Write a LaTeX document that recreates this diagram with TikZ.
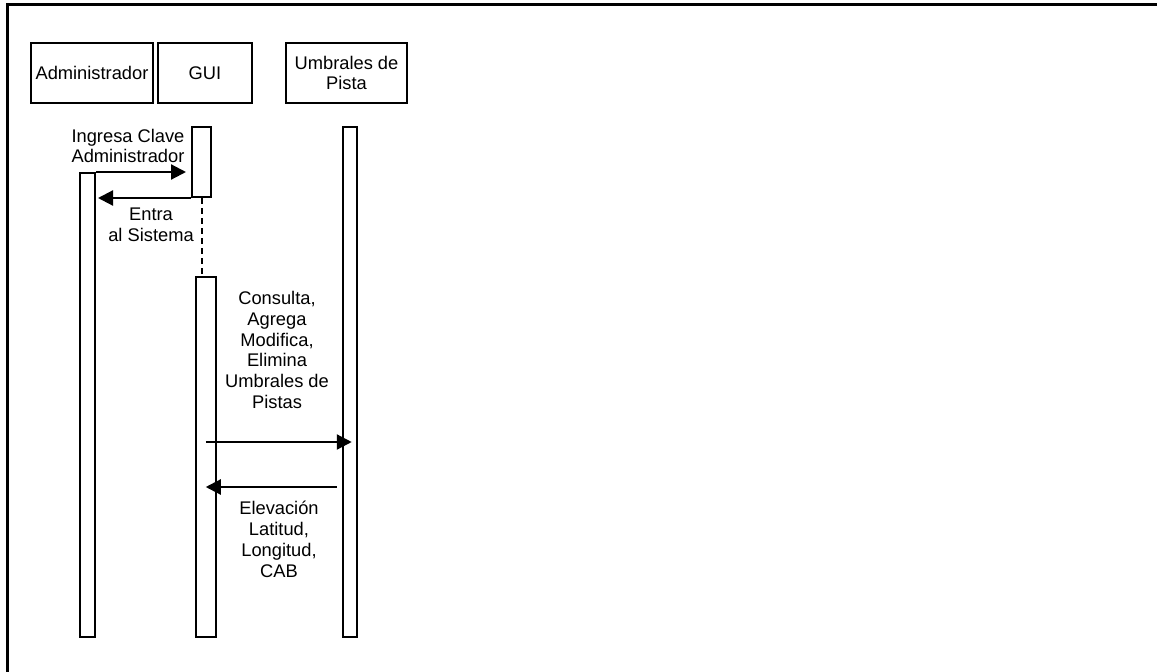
\documentclass[tikz,border=0pt]{standalone}
\usepackage{fontspec}
\setmainfont{Liberation Sans}
\usetikzlibrary{arrows.meta,calc}
\begin{document}
\begin{tikzpicture}[x=1pt,y=-1pt,
  every node/.style={font=\fontsize{18.3}{20.9}\selectfont, inner sep=0pt},
  objbox/.style={draw, line width=2pt, rectangle, align=center},
  actbox/.style={draw, line width=2pt, rectangle, fill=white},
  msg/.style={line width=2.2pt, -{Triangle[length=15pt,width=15pt]}},
  lbl/.style={align=center}]
\useasboundingbox (0,0) rectangle (1157,672);
% frame
\draw[line width=3pt] (7,673) -- (7,4) -- (1158,4);
% objects
\node[objbox, minimum width=122pt, minimum height=60pt] (admin) at (92,73) {Administrador};
\node[objbox, minimum width=94pt, minimum height=60pt] (gui) at (205,73) {GUI};
\node[objbox, minimum width=121pt, minimum height=60pt] (umb) at (346.5,73) {Umbrales de\\Pista};
% activations
\node[actbox, minimum width=15pt, minimum height=464pt] (a1) at (87.5,405) {};
\node[actbox, minimum width=19pt, minimum height=70pt] (g1) at (201.5,162) {};
\node[actbox, minimum width=20pt, minimum height=360pt] (g2) at (205.75,457) {};
\node[actbox, minimum width=14.5pt, minimum height=510pt] (u1) at (349.75,382) {};
% lifeline dashed
\draw[line width=2pt, dash pattern=on 6pt off 4pt] (g1.south) -- (g1.south |- g2.north);
% messages
\coordinate (m1end) at ($(g1.west |- a1.north)+(-5,0)$);
\draw[msg] (a1.north east) -- (m1end);
\coordinate (m2end) at ($(a1.east |- g1.south)+(2,0)$);
\draw[msg] (g1.south west) -- (m2end);
\coordinate (m3start) at ($(g2.west)+(11,-15)$);
\coordinate (m3end) at ($(u1.center |- m3start)+(2,0)$);
\draw[msg] (m3start) -- (m3end);
\coordinate (m4start) at ($(u1.west)+(-5,105)$);
\coordinate (m4end) at ($(g2.west |- m4start)+(11,0)$);
\draw[msg] (m4start) -- (m4end);
% labels
\node[lbl] (l1) at (128,146) {Ingresa Clave\\Administrador};
\node[lbl] (l2) at (151,225) {Entra\\al Sistema};
\node[lbl] (l3) at (277,350) {Consulta,\\Agrega\\Modifica,\\Elimina\\Umbrales de\\Pistas};
\node[lbl] (l4) at (279,539) {Elevación\\Latitud,\\Longitud,\\CAB};
\end{tikzpicture}
\end{document}
